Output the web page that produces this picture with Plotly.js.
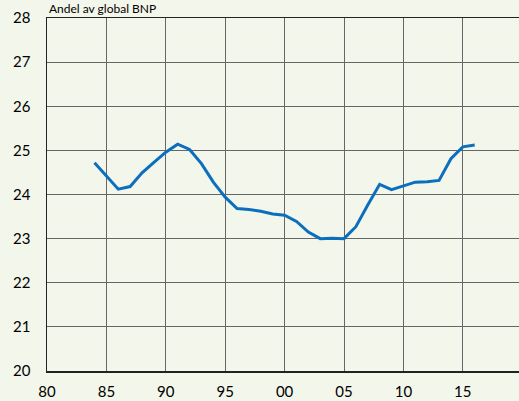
<!DOCTYPE html>
<html>
<head>
<meta charset="utf-8">
<script src="https://cdn.plot.ly/plotly-3.0.1.min.js"></script>
<style>html,body{margin:0;padding:0;background:#f3f6ea;}#chart{width:519px;height:401px;}</style>
</head>
<body>
<div id="chart"></div>
<script>
const years = [1984,1985,1986,1987,1988,1989,1990,1991,1992,1993,1994,1995,1996,1997,1998,1999,2000,2001,2002,2003,2004,2005,2006,2007,2008,2009,2010,2011,2012,2013,2014,2015,2016];
const share = [24.72,24.43,24.12,24.18,24.49,24.73,24.96,25.14,25.02,24.70,24.28,23.94,23.68,23.66,23.62,23.56,23.53,23.39,23.15,23.00,23.01,23.00,23.27,23.76,24.23,24.11,24.19,24.28,24.29,24.32,24.81,25.08,25.12];
const xTickVals = [1980,1985,1990,1995,2000,2005,2010,2015];
const xTickText = ['80','85','90','95','00','05','10','15'];
const titleText = 'Andel av global BNP';

const font = {family: 'Lato, "Open Sans", sans-serif', size: 15, color: '#000'};
Plotly.newPlot('chart', [{
  x: years, y: share, type: 'scatter', mode: 'lines',
  line: {color: '#0b6fbd', width: 3}, hoverinfo: 'skip'
}], {
  width: 519, height: 401,
  margin: {l: 47, r: 0, t: 18, b: 30},
  paper_bgcolor: '#f3f6ea', plot_bgcolor: '#f3f6ea',
  showlegend: false,
  font: font,
  xaxis: {
    range: [1980, 2019.73], tickvals: xTickVals, ticktext: xTickText,
    showgrid: true, gridcolor: '#666', gridwidth: 1,
    showline: true, linecolor: '#222', linewidth: 1.5, mirror: true,
    ticks: '', zeroline: false, tickfont: font, ticklabelstandoff: 6
  },
  yaxis: {
    range: [20, 28], dtick: 1, tick0: 20,
    showgrid: true, gridcolor: '#666', gridwidth: 1,
    showline: true, linecolor: '#222', linewidth: 1.5,
    ticks: '', zeroline: false, tickfont: font, ticklabelstandoff: 12
  },
  annotations: [{
    text: titleText, xref: 'paper', yref: 'paper', x: 0, y: 1, xanchor: 'left', yanchor: 'bottom',
    xshift: 0, yshift: 0, showarrow: false, font: {family: 'Lato, "Open Sans", sans-serif', size: 12, color: '#000'}
  }]
}, {staticPlot: true});
</script>
</body>
</html>
